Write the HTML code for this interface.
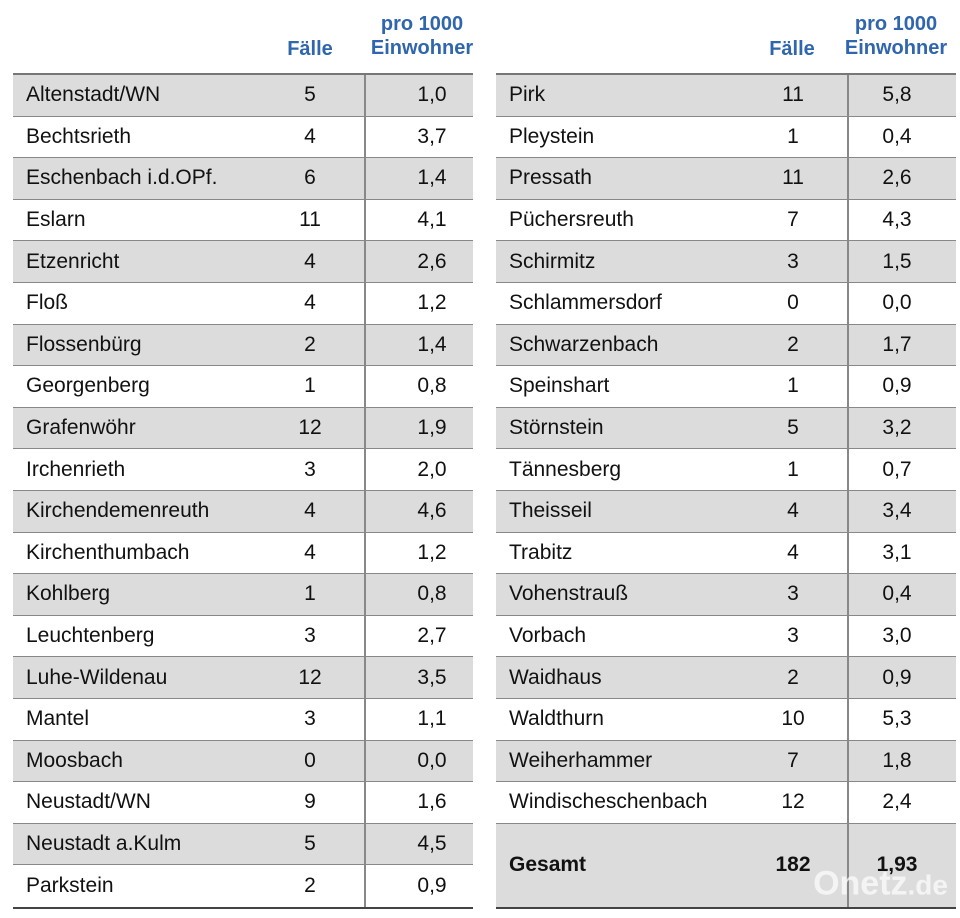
<!DOCTYPE html>
<html><head><meta charset="utf-8"><style>
body{margin:0;width:960px;height:918px;background:#fff;font-family:"Liberation Sans",sans-serif;position:relative;overflow:hidden}
.t{position:absolute;top:73px;width:460px;border-top:2px solid #777;border-bottom:2px solid #444}
.r{height:41.6px;position:relative;border-bottom:1.5px solid #888;box-sizing:border-box;font-size:21px;color:#111}
.r:last-child{border-bottom:none}
.g{background:#dcdcdc}
.r span{position:absolute;top:50%;transform:translateY(-50%)}
.n{left:13px}
.f{width:60px;text-align:center}
.v{width:70px;text-align:center}
.d{position:absolute;top:0;bottom:0;width:1.5px;background:#888}
.h{position:absolute;color:#2f66ad;font-weight:bold;font-size:20px;text-align:center;line-height:24px}
</style></head><body>
<div class="h" style="left:270px;top:37px;width:80px">Fälle</div>
<div class="h" style="left:357px;top:12px;width:130px">pro 1000<br>Einwohner</div>
<div class="h" style="left:752px;top:37px;width:80px">Fälle</div>
<div class="h" style="left:831px;top:12px;width:130px">pro 1000<br>Einwohner</div>
<div id="L" class="t" style="left:13px"></div>
<div id="R" class="t" style="left:496px"></div>
<script>
const L=[["Altenstadt/WN",5,"1,0"],["Bechtsrieth",4,"3,7"],["Eschenbach i.d.OPf.",6,"1,4"],["Eslarn",11,"4,1"],["Etzenricht",4,"2,6"],["Floß",4,"1,2"],["Flossenbürg",2,"1,4"],["Georgenberg",1,"0,8"],["Grafenwöhr",12,"1,9"],["Irchenrieth",3,"2,0"],["Kirchendemenreuth",4,"4,6"],["Kirchenthumbach",4,"1,2"],["Kohlberg",1,"0,8"],["Leuchtenberg",3,"2,7"],["Luhe-Wildenau",12,"3,5"],["Mantel",3,"1,1"],["Moosbach",0,"0,0"],["Neustadt/WN",9,"1,6"],["Neustadt a.Kulm",5,"4,5"],["Parkstein",2,"0,9"]];
const R=[["Pirk",11,"5,8"],["Pleystein",1,"0,4"],["Pressath",11,"2,6"],["Püchersreuth",7,"4,3"],["Schirmitz",3,"1,5"],["Schlammersdorf",0,"0,0"],["Schwarzenbach",2,"1,7"],["Speinshart",1,"0,9"],["Störnstein",5,"3,2"],["Tännesberg",1,"0,7"],["Theisseil",4,"3,4"],["Trabitz",4,"3,1"],["Vohenstrauß",3,"0,4"],["Vorbach",3,"3,0"],["Waidhaus",2,"0,9"],["Waldthurn",10,"5,3"],["Weiherhammer",7,"1,8"],["Windischeschenbach",12,"2,4"]];
function build(id,rows,fx,vx,dx,tot){let h="";rows.forEach((r,i)=>{h+=`<div class="r ${i%2?'':'g'}"><span class="n">${r[0]}</span><span class="f" style="left:${fx-30}px">${r[1]}</span><span class="v" style="left:${vx-35}px">${r[2]}</span><div class="d" style="left:${dx}px"></div></div>`});
if(tot)h+=`<div class="r g" style="height:83.2px;font-weight:bold"><span class="n">Gesamt</span><span class="f" style="left:${fx-30}px">182</span><span class="v" style="left:${vx-35}px">1,93</span><div class="d" style="left:${dx}px"></div><span style="right:8px;top:72%;color:#fff;font-size:34px;font-weight:bold;opacity:.7">Onetz<span style="position:static;transform:none;font-size:28px">.de</span></span></div>`;
document.getElementById(id).innerHTML=h}
build("L",L,297,419,351,false);build("R",R,297,401,351,true);
</script>
</body></html>
